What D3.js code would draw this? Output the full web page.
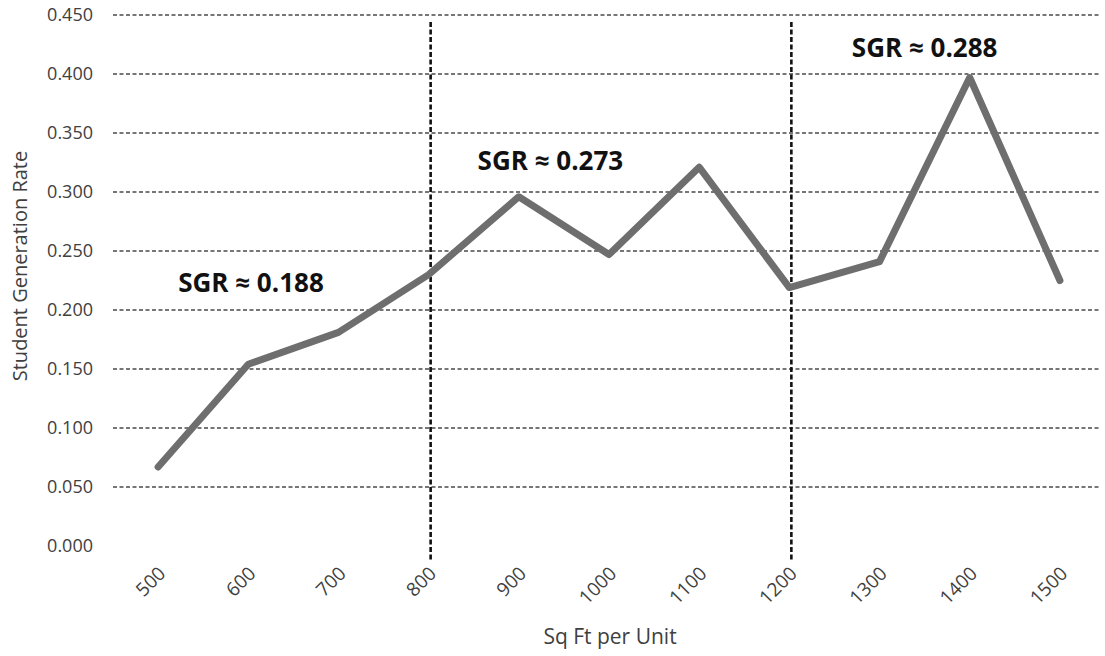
<!DOCTYPE html>
<html>
<head>
<meta charset="utf-8">
<script src="https://cdn.jsdelivr.net/npm/d3@7"></script>
<style>
  body { margin: 0; background: #fff; }
  text { font-family: "Open Sans", "Noto Sans", sans-serif; }
</style>
</head>
<body>
<svg id="svgx"></svg>
<script>
// chart data
var sqft = [500, 600, 700, 800, 900, 1000, 1100, 1200, 1300, 1400, 1500];
var sgr = [0.067, 0.154, 0.181, 0.230, 0.296, 0.247, 0.321, 0.219, 0.241, 0.397, 0.225];
var yTicks = [0, 0.05, 0.1, 0.15, 0.2, 0.25, 0.3, 0.35, 0.4, 0.45];
var dividers = [800, 1200];
var noteText = ["SGR \u2248 0.188", "SGR \u2248 0.273", "SGR \u2248 0.288"];
var noteAt = [603, 935, 1350];   // sq ft where each label is centred
var noteVal = [0.215, 0.319, 0.414]; // baseline value

var widthA = 1105, heightA = 656;
var margin = {top: 15, right: 0, bottom: 110, left: 113};
var fontsize = 18;

var svg = d3.select('#svgx')
  .attr('width', widthA)
  .attr('height', heightA);

var x = d3.scaleLinear()
  .domain([450, 1550])
  .range([margin.left, widthA - margin.right]);

var y = d3.scaleLinear()
  .domain([0, 0.45])
  .range([heightA - margin.bottom, margin.top]);

// horizontal gridlines (0 has none)
svg.append('g')
  .attr('class', 'grid')
  .selectAll('line')
  .data(yTicks.filter(d => d > 0))
  .enter()
  .append('line')
    .attr('x1', margin.left)
    .attr('x2', widthA - 6)
    .attr('y1', d => y(d))
    .attr('y2', d => y(d))
    .style('stroke', '#4a4a4a')
    .style('stroke-width', 1.4)
    .style('stroke-dasharray', '4,2.5');

// y axis labels
var yAxis = d3.axisLeft(y)
  .tickValues(yTicks)
  .tickSize(0)
  .tickPadding(20)
  .tickFormat(d3.format('.3f'));

svg.append('g')
  .attr('transform', `translate(${margin.left},0)`)
  .call(yAxis)
  .call(g => g.select('.domain').remove())
  .selectAll('text')
    .style('font-family', '"Open Sans", sans-serif')
    .style('font-size', fontsize)
    .style('fill', '#404040');

// x axis labels (rotated)
svg.append('g')
  .attr('class', 'xlabels')
  .selectAll('text')
  .data(sqft)
  .enter()
  .append('text')
    .attr('transform', d => `translate(${x(d) + 4},${heightA - margin.bottom + 24}) rotate(-45)`)
    .attr('text-anchor', 'end')
    .attr('dy', '0.35em')
    .style('font-size', 19)
    .style('fill', '#404040')
    .text(d => d);

// vertical dividers
svg.append('g')
  .attr('class', 'dividers')
  .selectAll('line')
  .data(dividers)
  .enter()
  .append('line')
    .attr('x1', d => x(d) + 2)
    .attr('x2', d => x(d) + 2)
    .attr('y1', 22)
    .attr('y2', heightA - margin.bottom + 14)
    .style('stroke', '#111')
    .style('stroke-width', 2.6)
    .style('stroke-dasharray', '5,2.5');

// data line
var line = d3.line()
  .x((d, i) => x(sqft[i]))
  .y(d => y(d));

svg.append('path')
  .datum(sgr)
  .attr('d', line)
  .style('fill', 'none')
  .style('stroke', '#6e6e6e')
  .style('stroke-width', 7)
  .style('stroke-linejoin', 'round')
  .style('stroke-linecap', 'round');

// annotations
svg.append('g')
  .attr('class', 'notes')
  .selectAll('text')
  .data(noteText)
  .enter()
  .append('text')
    .attr('x', (d, i) => x(noteAt[i]))
    .attr('y', (d, i) => y(noteVal[i]))
    .attr('text-anchor', 'middle')
    .style('font-size', 26)
    .style('font-weight', 700)
    .style('fill', '#111')
    .text(d => d);

// axis titles
svg.append('text')
  .attr('x', 610)
  .attr('y', 644)
  .attr('text-anchor', 'middle')
  .style('font-size', 21)
  .style('fill', '#404040')
  .text('Sq Ft per Unit');

svg.append('text')
  .attr('transform', 'translate(27,266) rotate(-90)')
  .attr('text-anchor', 'middle')
  .style('font-size', 20)
  .style('fill', '#404040')
  .text('Student Generation Rate');
</script>
</body>
</html>
